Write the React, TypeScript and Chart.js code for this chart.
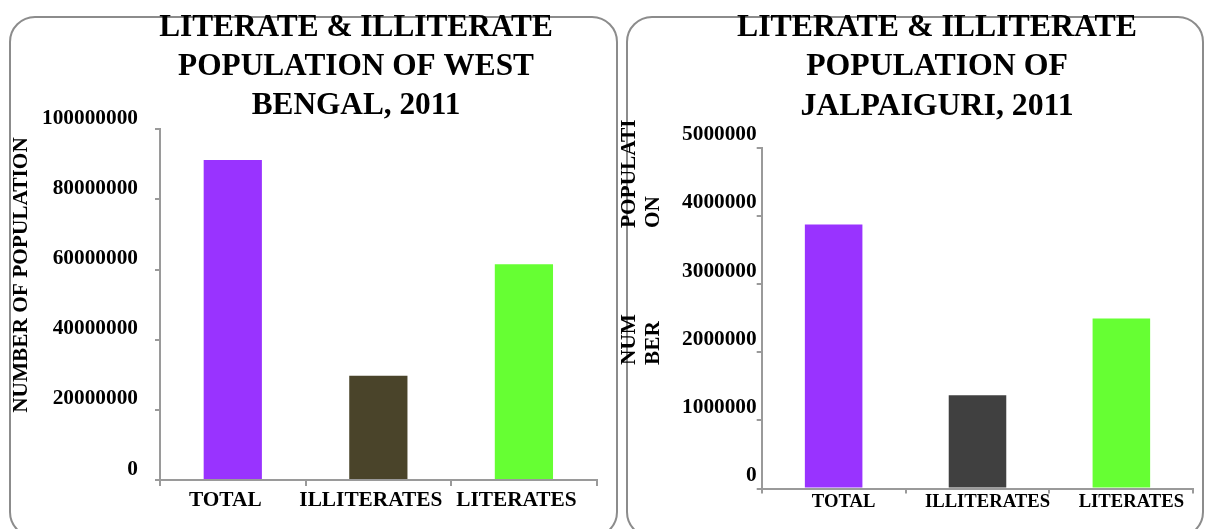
import React, { useEffect, useRef } from 'react';
import { Chart, registerables } from 'chart.js';

Chart.register(...registerables);

// ---- Data ----
const categories = ['TOTAL', 'ILLITERATES', 'LITERATES'];
const westBengalPopulation = [91276115, 29737834, 61538281];
const jalpaiguriPopulation = [3872846, 1367000, 2493000];
const westBengalTicks = [0, 20000000, 40000000, 60000000, 80000000, 100000000];
const jalpaiguriTicks = [0, 1000000, 2000000, 3000000, 4000000, 5000000];
const westBengalColors = ['#9933FF', '#4A442A', '#66FF33'];
const jalpaiguriColors = ['#9933FF', '#404040', '#66FF33'];
const westBengalTitle = ['LITERATE & ILLITERATE', 'POPULATION OF WEST', 'BENGAL, 2011'];
const jalpaiguriTitle = ['LITERATE & ILLITERATE', 'POPULATION OF', 'JALPAIGURI, 2011'];
const westBengalAxisTitle = ['NUMBER OF POPULATION'];
const jalpaiguriAxisTitle = ['POPULATI', 'ON', 'NUM', 'BER'];

const FONT = '"Liberation Serif", "Times New Roman", serif';
const AXIS_GRAY = '#9a9a9a';

type TextItem = { text: string; x: number; y: number; size: number; rotate?: boolean; align?: CanvasTextAlign; baseline?: CanvasTextBaseline };

function textPlugin(items: TextItem[]) {
  return {
    id: 'freeText',
    afterDraw(chart: any) {
      const ctx = chart.ctx as CanvasRenderingContext2D;
      ctx.save();
      ctx.fillStyle = '#000';
      for (const it of items) {
        ctx.save();
        ctx.font = `bold ${it.size}px ${FONT}`;
        ctx.textAlign = it.align || 'center';
        ctx.textBaseline = it.baseline || 'alphabetic';
        ctx.translate(it.x, it.y);
        if (it.rotate) ctx.rotate(-Math.PI / 2);
        ctx.fillText(it.text, 0, 0);
        ctx.restore();
      }
      ctx.restore();
    },
  };
}

type PanelSpec = {
  values: number[];
  colors: string[];
  ticks: number[];
  padTop: number;
  padRight: number;
  yWidth: number;
  xHeight: number;
  yTickPadding: number;
  yTickLength: number;
  yLabelOffset: number;
  yFont: number;
  xFont: number;
  xLabelOffset: number;
  xPadding: number;
  xTickLength: number;
  texts: TextItem[];
};

function makeConfig(s: PanelSpec): any {
  return {
    type: 'bar',
    data: {
      labels: categories,
      datasets: [
        {
          data: s.values,
          backgroundColor: s.colors,
          borderWidth: 0,
          barPercentage: 0.4,
          categoryPercentage: 1,
        },
      ],
    },
    options: {
      responsive: false,
      animation: false,
      layout: { padding: { top: s.padTop, right: s.padRight, left: 0, bottom: 0 } },
      plugins: { legend: { display: false }, tooltip: { enabled: false }, title: { display: false } },
      scales: {
        x: {
          offset: true,
          afterFit: (scale: any) => {
            scale.height = s.xHeight;
          },
          grid: {
            display: true,
            offset: true,
            drawOnChartArea: false,
            drawTicks: true,
            tickLength: s.xTickLength,
            color: AXIS_GRAY,
            lineWidth: 2,
          },
          border: { display: true, color: AXIS_GRAY, width: 2 },
          ticks: {
            color: '#000',
            font: { family: FONT, size: s.xFont, weight: 'bold', lineHeight: 1 },
            padding: s.xPadding,
            labelOffset: s.xLabelOffset,
            maxRotation: 0,
            autoSkip: false,
          },
        },
        y: {
          min: s.ticks[0],
          max: s.ticks[s.ticks.length - 1],
          afterFit: (scale: any) => {
            scale.width = s.yWidth;
          },
          afterBuildTicks: (scale: any) => {
            scale.ticks = s.ticks.map((v) => ({ value: v }));
          },
          grid: {
            display: true,
            drawOnChartArea: false,
            drawTicks: true,
            tickLength: s.yTickLength,
            color: AXIS_GRAY,
            lineWidth: 2,
          },
          border: { display: true, color: AXIS_GRAY, width: 2 },
          ticks: {
            color: '#000',
            font: { family: FONT, size: s.yFont, weight: 'bold', lineHeight: 1 },
            padding: s.yTickPadding,
            labelOffset: s.yLabelOffset,
            callback: (v: any) => String(v),
          },
        },
      },
    },
    plugins: [textPlugin(s.texts)],
  };
}

const leftSpec: PanelSpec = {
  values: westBengalPopulation,
  colors: westBengalColors,
  ticks: westBengalTicks,
  padTop: 129.3,
  padRight: 23.3,
  yWidth: 160,
  xHeight: 49,
  yTickPadding: 17,
  yTickLength: 5,
  yLabelOffset: -11,
  yFont: 21.33,
  xFont: 21.33,
  xLabelOffset: -7.5,
  xPadding: 3.8,
  xTickLength: 6,
  texts: [
    { text: westBengalTitle[0], x: 356, y: 36, size: 31.3 },
    { text: westBengalTitle[1], x: 356, y: 74.5, size: 31.3 },
    { text: westBengalTitle[2], x: 356, y: 114, size: 31.3 },
    { text: westBengalAxisTitle[0], x: 21.7, y: 275, size: 21.33, rotate: true, align: 'center', baseline: 'middle' },
  ],
};

const RIGHT_LEFT = 610;
const rightSpec: PanelSpec = {
  values: jalpaiguriPopulation,
  colors: jalpaiguriColors,
  ticks: jalpaiguriTicks,
  padTop: 147.7,
  padRight: 11.7,
  yWidth: 151.7,
  xHeight: 40.5,
  yTickPadding: 0,
  yTickLength: 5,
  yLabelOffset: -13,
  yFont: 21.33,
  xFont: 18.67,
  xLabelOffset: 10,
  xPadding: -1,
  xTickLength: 5,
  texts: [
    { text: jalpaiguriTitle[0], x: 937 - RIGHT_LEFT, y: 36, size: 31.8 },
    { text: jalpaiguriTitle[1], x: 937 - RIGHT_LEFT, y: 74.5, size: 31.8 },
    { text: jalpaiguriTitle[2], x: 937 - RIGHT_LEFT, y: 114.5, size: 31.8 },
    { text: jalpaiguriAxisTitle[0], x: 629.7 - RIGHT_LEFT, y: 228, size: 21.33, rotate: true, align: 'left', baseline: 'middle' },
    { text: jalpaiguriAxisTitle[1], x: 653 - RIGHT_LEFT, y: 228, size: 21.33, rotate: true, align: 'left', baseline: 'middle' },
    { text: jalpaiguriAxisTitle[2], x: 629.7 - RIGHT_LEFT, y: 365, size: 21.33, rotate: true, align: 'left', baseline: 'middle' },
    { text: jalpaiguriAxisTitle[3], x: 653 - RIGHT_LEFT, y: 365, size: 21.33, rotate: true, align: 'left', baseline: 'middle' },
  ],
};

function Panel({ spec, left, width, height }: { spec: PanelSpec; left: number; width: number; height: number }) {
  const ref = useRef<HTMLCanvasElement>(null);
  useEffect(() => {
    if (!ref.current) return;
    const chart = new Chart(ref.current, makeConfig(spec));
    return () => chart.destroy();
  }, [spec]);
  return (
    <canvas
      ref={ref}
      width={width}
      height={height}
      style={{ position: 'absolute', left, top: 0, width, height, display: 'block' }}
    />
  );
}

export default function App() {
  const boxStyle = (left: number, width: number): React.CSSProperties => ({
    position: 'absolute',
    left,
    top: 16,
    width,
    height: 522,
    border: '2px solid #8c8c8c',
    borderRadius: 26,
    boxSizing: 'border-box',
  });
  return (
    <div style={{ position: 'fixed', left: 0, top: 0, width: 1205, height: 529, overflow: 'hidden', background: '#fff' }}>
      <div style={boxStyle(9, 609)} />
      <div style={boxStyle(626, 578)} />
      <Panel spec={leftSpec} left={0} width={620} height={529} />
      <Panel spec={rightSpec} left={RIGHT_LEFT} width={595} height={529} />
    </div>
  );
}
